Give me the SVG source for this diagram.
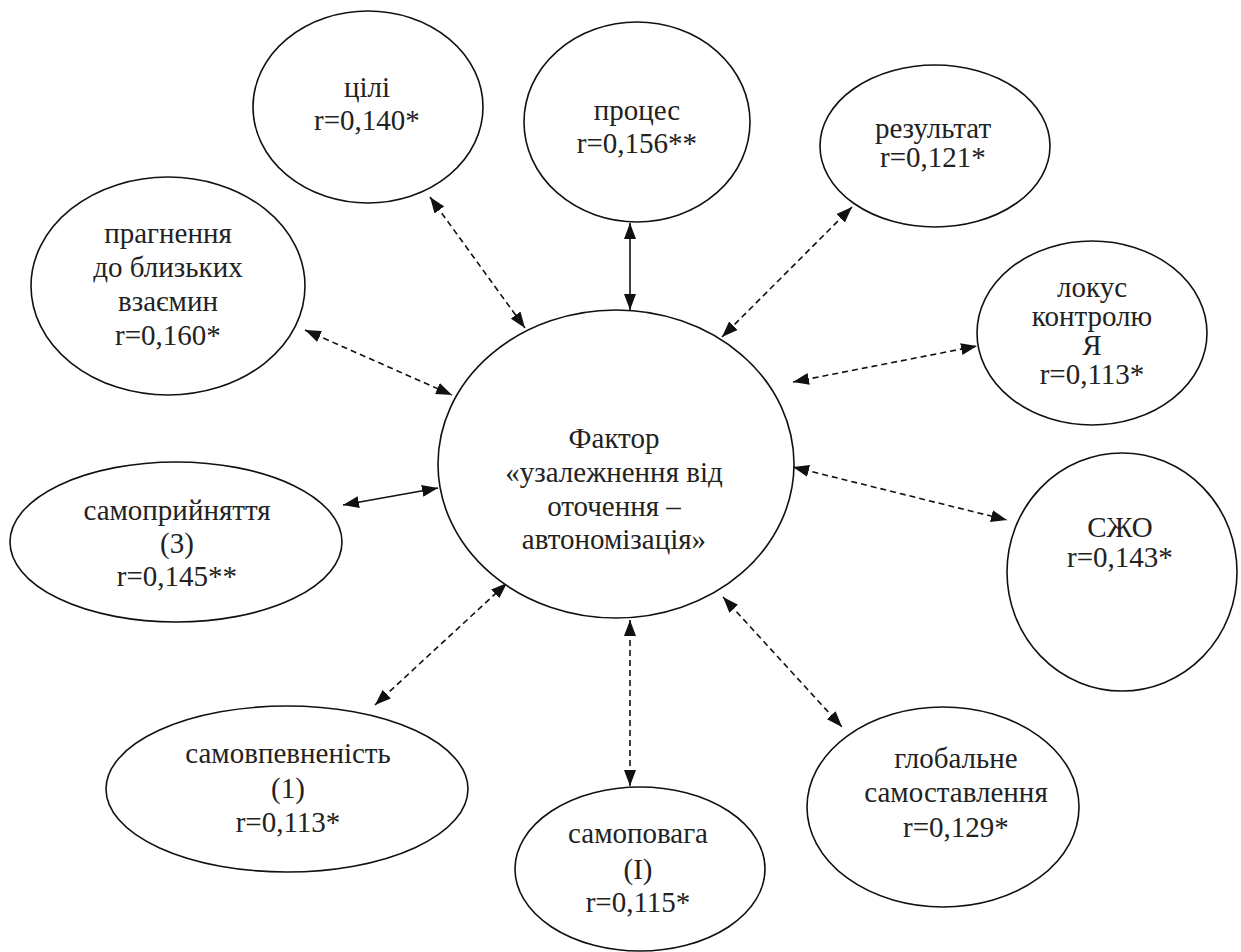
<svg xmlns="http://www.w3.org/2000/svg" width="1241" height="952" viewBox="0 0 1241 952">
<style>
.n ellipse{fill:#fff;stroke:#111;stroke-width:1.6}
.n text{font-family:'Liberation Serif','DejaVu Serif',serif;font-size:29px;fill:#222;text-anchor:middle}
.c line{stroke:#111;stroke-width:1.6}
.c line.d{stroke-dasharray:6 4}
</style>
<defs>
<marker id="ah" markerUnits="userSpaceOnUse" markerWidth="16" markerHeight="12" viewBox="0 0 16 12" refX="16" refY="6" orient="auto-start-reverse">
<path d="M0,0 L16,6 L0,12 Z" fill="#111"/>
</marker>
</defs>
<rect width="1241" height="952" fill="#fff"/>
<g class="c" id="connectors">
<line class="d" x1="430" y1="197" x2="525" y2="328" marker-start="url(#ah)" marker-end="url(#ah)"/>
<line x1="630" y1="223" x2="630" y2="310" marker-start="url(#ah)" marker-end="url(#ah)"/>
<line class="d" x1="852" y1="207" x2="722" y2="337" marker-start="url(#ah)" marker-end="url(#ah)"/>
<line class="d" x1="305" y1="330" x2="452" y2="395" marker-start="url(#ah)" marker-end="url(#ah)"/>
<line x1="343" y1="505" x2="438" y2="488" marker-start="url(#ah)" marker-end="url(#ah)"/>
<line class="d" x1="793" y1="382" x2="977" y2="346" marker-start="url(#ah)" marker-end="url(#ah)"/>
<line class="d" x1="793" y1="467" x2="1007" y2="520" marker-start="url(#ah)" marker-end="url(#ah)"/>
<line class="d" x1="375" y1="705" x2="507" y2="583" marker-start="url(#ah)" marker-end="url(#ah)"/>
<line class="d" x1="630" y1="620" x2="630" y2="786" marker-start="url(#ah)" marker-end="url(#ah)"/>
<line class="d" x1="723" y1="597" x2="842" y2="727" marker-start="url(#ah)" marker-end="url(#ah)"/>
</g>
<g class="n" id="center">
<ellipse cx="616" cy="464" rx="178" ry="154"/>
<text x="614" y="448">Фактор</text>
<text x="614" y="482">«узалежнення від</text>
<text x="614" y="516">оточення –</text>
<text x="614" y="549">автономізація»</text>
</g>
<g class="n" id="tsili">
<ellipse cx="368" cy="107" rx="115" ry="96"/>
<text x="367" y="97">цілі</text>
<text x="367" y="130">r=0,140*</text>
</g>
<g class="n" id="protses">
<ellipse cx="637" cy="122" rx="113" ry="100"/>
<text x="637" y="120">процес</text>
<text x="637" y="153">r=0,156**</text>
</g>
<g class="n" id="rezultat">
<ellipse cx="935" cy="146" rx="115" ry="81"/>
<text x="933" y="138">результат</text>
<text x="933" y="167">r=0,121*</text>
</g>
<g class="n" id="prahnennia">
<ellipse cx="168" cy="286" rx="137" ry="109"/>
<text x="168" y="243">прагнення</text>
<text x="168" y="277">до близьких</text>
<text x="168" y="311">взаємин</text>
<text x="168" y="345">r=0,160*</text>
</g>
<g class="n" id="samopryiniattia">
<ellipse cx="176" cy="542" rx="166" ry="80"/>
<text x="177" y="520">самоприйняття</text>
<text x="177" y="553">(3)</text>
<text x="177" y="586">r=0,145**</text>
</g>
<g class="n" id="lokus">
<ellipse cx="1092" cy="333" rx="115" ry="92"/>
<text x="1092" y="297">локус</text>
<text x="1092" y="326">контролю</text>
<text x="1092" y="355">Я</text>
<text x="1092" y="384">r=0,113*</text>
</g>
<g class="n" id="szho">
<ellipse cx="1122" cy="572" rx="115" ry="119"/>
<text x="1120" y="537">СЖО</text>
<text x="1120" y="567">r=0,143*</text>
</g>
<g class="n" id="samovpevnenist">
<ellipse cx="287" cy="789" rx="181" ry="83"/>
<text x="288" y="763">самовпевненість</text>
<text x="288" y="798">(1)</text>
<text x="288" y="832">r=0,113*</text>
</g>
<g class="n" id="samopovaha">
<ellipse cx="640" cy="869" rx="125" ry="82"/>
<text x="638" y="843">самоповага</text>
<text x="638" y="879">(I)</text>
<text x="638" y="912">r=0,115*</text>
</g>
<g class="n" id="hlobalne">
<ellipse cx="943" cy="807" rx="136" ry="100"/>
<text x="956" y="768">глобальне</text>
<text x="956" y="802">самоставлення</text>
<text x="956" y="837">r=0,129*</text>
</g>
</svg>
